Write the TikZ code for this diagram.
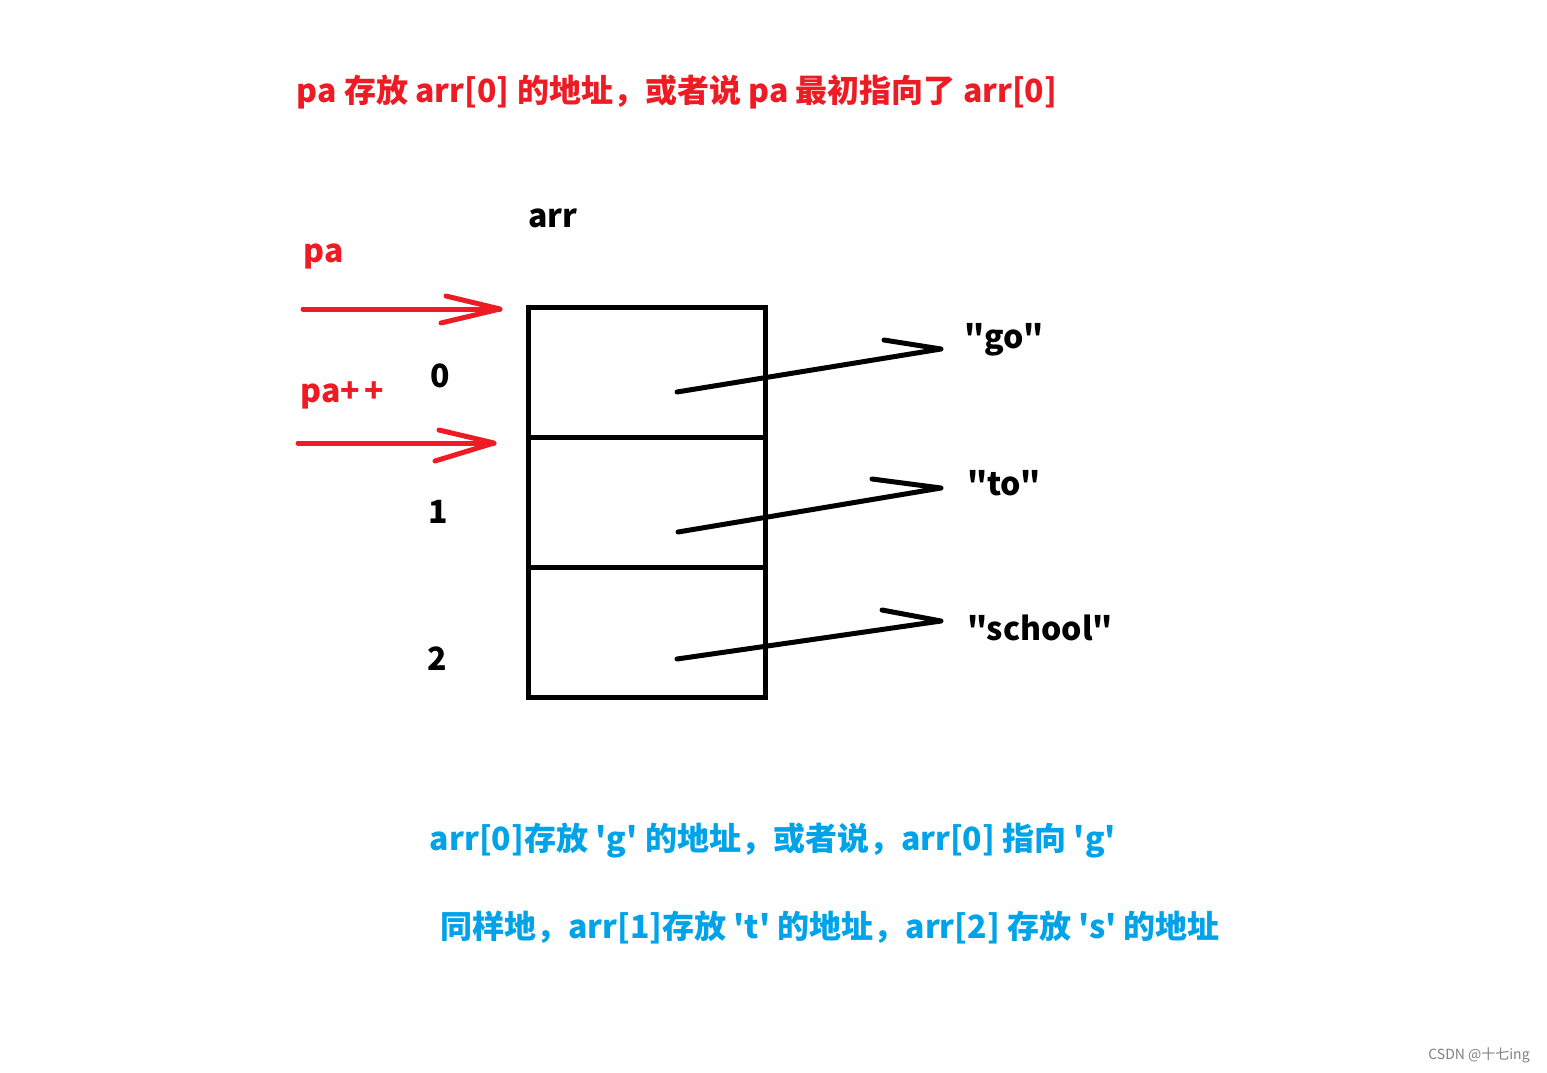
\documentclass[tikz,border=0pt]{standalone}
\usepackage{fontspec}
\setmainfont{Noto Sans CJK SC}[Ligatures=TeXOff]
\usepackage{tikz}
\definecolor{pred}{RGB}{237,28,36}
\definecolor{pblue}{RGB}{0,162,232}
\newcommand{\dq}{\symbol{34}}
\newcommand{\sq}{\symbol{39}}

\begin{document}
\begin{tikzpicture}[x=1pt,y=-1pt,
  lbl/.style={font=\fontsize{32}{34}\selectfont\bfseries,inner sep=0pt},
  redlbl/.style={lbl,text=pred},
  bluelbl/.style={lbl,text=pblue},
  cellbox/.style={draw,line width=5pt,minimum width=237pt,minimum height=130pt,inner sep=0pt},
  ptr/.style={line width=5pt,line cap=round,line join=round}]
\useasboundingbox (0,0) rectangle (1547,1072);
\node[redlbl] (title) at (677,92) {pa 存放 arr[0] 的地址，或者说 pa 最初指向了 arr[0]};
\node[lbl] (arr) at (553,218) {arr};
\node[redlbl] (pa) at (324,256) {pa};
\node[redlbl] (painc) at (342,395) {pa+\kern4pt+};
\node[cellbox] (c0) at (646.5,372) {};
\node[cellbox] (c1) at (646.5,502) {};
\node[cellbox] (c2) at (646.5,632) {};
\node[lbl] (i0) at (440,376) {0};
\node[lbl] (i1) at (438,512) {1};
\node[lbl] (i2) at (437,659) {2};
\node[lbl] (go) at (1004,340) {\dq go\dq};
\node[lbl] (to) at (1004,483) {\dq to\dq};
\node[lbl] (school) at (1040,628) {\dq school\dq};
% red pointers
\coordinate (pa0) at (303,309);
\coordinate (t0) at (500,309);
\coordinate (pa1) at (298,443);
\coordinate (t1) at (494,443);
\draw[ptr,pred] (pa0) -- (t0);
\draw[ptr,pred] (446,296) -- (t0) -- (441,323);
\draw[ptr,pred] (pa1) -- (t1);
\draw[ptr,pred] (439,430) -- (t1) -- (435,461);
% black pointers
\coordinate (s0) at (677,392);
\coordinate (s1) at (678,532);
\coordinate (s2) at (677,659);
\draw[ptr] (s0) -- (941,349) -- (884,340);
\draw[ptr] (s1) -- (941,488) -- (872,479);
\draw[ptr] (s2) -- (941,621) -- (882,610);
\node[bluelbl] (note1) at (773,841) {arr[0]存放 \sq g\sq\ 的地址，或者说，arr[0] 指向 \sq g\sq};
\node[bluelbl] (note2) at (830,927) {同样地，arr[1]存放 \sq t\sq\ 的地址，arr[2] 存放 \sq s\sq\ 的地址};
\node[font=\fontsize{14}{16}\selectfont,text=gray,inner sep=0pt] (mark) at (1479,1055) {CSDN @十七ing};
\end{tikzpicture}
\end{document}
